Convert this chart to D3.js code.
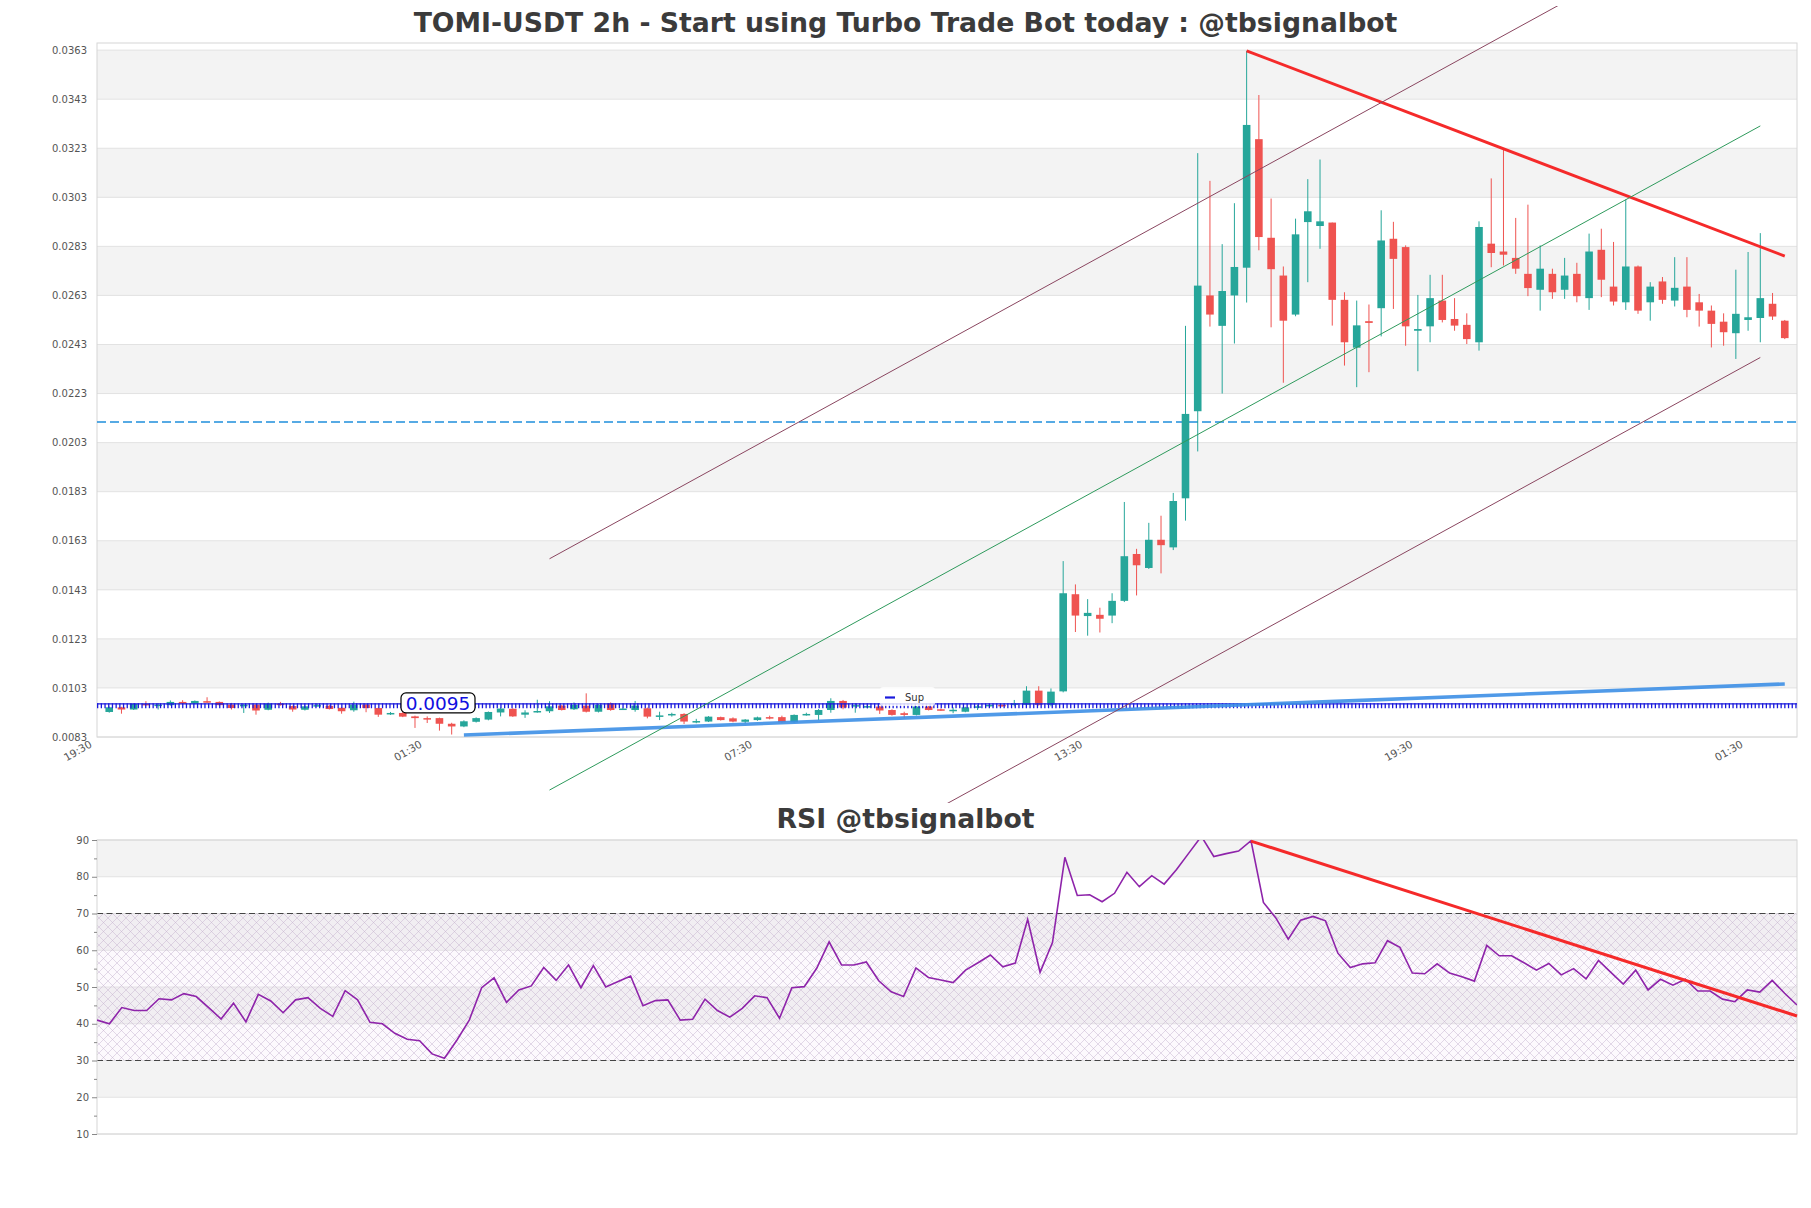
<!DOCTYPE html>
<html>
<head>
<meta charset="utf-8">
<script src="https://cdn.jsdelivr.net/npm/d3@7"></script>
<style>
  body { margin: 0; background: #fff; }
  svg { display: block; font-family: "DejaVu Sans", sans-serif; }
</style>
</head>
<body>
<svg id="chart"></svg>
<script>
// ---- data ----
const openP = [0.00932,0.00951,0.00942,0.00965,0.00960,0.00960,0.00973,0.00966,0.00976,0.00973,
  0.00962,0.00955,0.00962,0.00941,0.00966,0.00956,0.00941,0.00957,0.00957,0.00949,
  0.00939,0.00962,0.00948,0.00926,0.00928,0.00914,0.00907,0.00907,0.00884,0.00873,
  0.00892,0.00901,0.00930,0.00945,0.00921,0.00934,0.00935,0.00958,0.00943,0.00958,
  0.00933,0.00967,0.00942,0.00940,0.00947,0.00914,0.00920,0.00924,0.00892,0.00893,
  0.00911,0.00906,0.00892,0.00899,0.00911,0.00911,0.00890,0.00919,0.00920,0.00940,
  0.00977,0.00957,0.00955,0.00954,0.00940,0.00927,0.00920,0.00954,0.00943,0.00939,
  0.00933,0.00949,0.00955,0.00961,0.00961,0.00961,0.01019,0.00961,0.01016,0.01412,
  0.01323,0.01328,0.01325,0.01385,0.01576,0.01519,0.01634,0.01603,0.01803,0.02158,
  0.02630,0.02506,0.02630,0.02743,0.03267,0.02865,0.02711,0.02552,0.02929,0.02913,
  0.02927,0.02612,0.02417,0.02525,0.02578,0.02861,0.02827,0.02486,0.02504,0.02609,
  0.02534,0.02510,0.02439,0.02841,0.02809,0.02783,0.02718,0.02653,0.02718,0.02653,
  0.02718,0.02619,0.02816,0.02666,0.02602,0.02748,0.02602,0.02687,0.02609,0.02666,
  0.02602,0.02568,0.02523,0.02476,0.02530,0.02538,0.02596,0.02527];
const highP = [0.00954,0.00953,0.00967,0.00976,0.00968,0.00979,0.00980,0.00979,0.00992,0.00975,
  0.00969,0.00964,0.00964,0.00970,0.00973,0.00958,0.00958,0.00966,0.00960,0.00952,
  0.00974,0.00964,0.00950,0.00932,0.00932,0.00917,0.00914,0.00909,0.00888,0.00898,
  0.00910,0.00934,0.00950,0.00947,0.00939,0.00982,0.00976,0.00960,0.00971,0.01008,
  0.00964,0.00971,0.00949,0.00977,0.00950,0.00933,0.00929,0.00927,0.00904,0.00915,
  0.00913,0.00910,0.00903,0.00913,0.00917,0.00917,0.00922,0.00929,0.00944,0.00988,
  0.00981,0.00967,0.00963,0.00957,0.00943,0.00933,0.00956,0.00957,0.00946,0.00951,
  0.00953,0.00961,0.00963,0.00963,0.00981,0.01037,0.01037,0.01028,0.01547,0.01452,
  0.01392,0.01357,0.01416,0.01788,0.01597,0.01703,0.01732,0.01825,0.02506,0.03210,
  0.03097,0.02839,0.03006,0.03627,0.03447,0.03025,0.02748,0.02943,0.03104,0.03184,
  0.02927,0.02643,0.02609,0.02593,0.02977,0.02930,0.02834,0.02632,0.02714,0.02714,
  0.02619,0.02557,0.02932,0.03107,0.03225,0.02946,0.03000,0.02834,0.02739,0.02783,
  0.02763,0.02882,0.02902,0.02848,0.03021,0.02752,0.02684,0.02705,0.02786,0.02786,
  0.02636,0.02589,0.02557,0.02735,0.02807,0.02884,0.02640,0.02530];
const lowP = [0.00929,0.00925,0.00940,0.00958,0.00942,0.00958,0.00962,0.00964,0.00969,0.00958,
  0.00942,0.00928,0.00921,0.00939,0.00958,0.00933,0.00938,0.00955,0.00942,0.00925,
  0.00933,0.00931,0.00912,0.00920,0.00911,0.00867,0.00887,0.00856,0.00840,0.00870,
  0.00889,0.00898,0.00914,0.00912,0.00908,0.00929,0.00928,0.00938,0.00940,0.00930,
  0.00930,0.00937,0.00940,0.00933,0.00906,0.00899,0.00913,0.00883,0.00886,0.00891,
  0.00897,0.00890,0.00885,0.00896,0.00902,0.00887,0.00888,0.00917,0.00899,0.00929,
  0.00943,0.00929,0.00947,0.00924,0.00917,0.00906,0.00918,0.00938,0.00936,0.00927,
  0.00931,0.00940,0.00953,0.00953,0.00955,0.00958,0.00958,0.00955,0.01012,0.01258,
  0.01243,0.01256,0.01294,0.01380,0.01407,0.01515,0.01497,0.01592,0.01712,0.01994,
  0.02503,0.02230,0.02434,0.02601,0.02814,0.02500,0.02274,0.02545,0.02684,0.02820,
  0.02507,0.02344,0.02256,0.02317,0.02463,0.02575,0.02425,0.02321,0.02439,0.02520,
  0.02486,0.02432,0.02405,0.02745,0.02752,0.02718,0.02627,0.02568,0.02616,0.02616,
  0.02602,0.02571,0.02623,0.02589,0.02571,0.02555,0.02527,0.02596,0.02585,0.02541,
  0.02503,0.02418,0.02425,0.02371,0.02486,0.02439,0.02530,0.02452];
const closeP = [0.00951,0.00942,0.00965,0.00960,0.00962,0.00973,0.00966,0.00977,0.00970,0.00960,
  0.00948,0.00962,0.00938,0.00966,0.00960,0.00942,0.00955,0.00960,0.00944,0.00935,
  0.00962,0.00948,0.00921,0.00928,0.00913,0.00907,0.00905,0.00884,0.00873,0.00894,
  0.00907,0.00932,0.00946,0.00914,0.00930,0.00936,0.00955,0.00940,0.00961,0.00933,
  0.00961,0.00940,0.00946,0.00958,0.00913,0.00918,0.00924,0.00893,0.00895,0.00913,
  0.00899,0.00893,0.00901,0.00910,0.00909,0.00890,0.00920,0.00924,0.00940,0.00977,
  0.00950,0.00960,0.00956,0.00938,0.00920,0.00920,0.00954,0.00940,0.00938,0.00941,
  0.00951,0.00955,0.00961,0.00955,0.00967,0.01019,0.00961,0.01015,0.01416,0.01325,
  0.01336,0.01312,0.01385,0.01567,0.01530,0.01634,0.01612,0.01792,0.02147,0.02670,
  0.02552,0.02648,0.02746,0.03325,0.02868,0.02737,0.02527,0.02879,0.02973,0.02932,
  0.02612,0.02439,0.02508,0.02518,0.02854,0.02779,0.02504,0.02493,0.02619,0.02530,
  0.02507,0.02452,0.02909,0.02803,0.02796,0.02739,0.02660,0.02739,0.02643,0.02711,
  0.02627,0.02809,0.02694,0.02605,0.02748,0.02568,0.02666,0.02612,0.02661,0.02571,
  0.02568,0.02514,0.02480,0.02555,0.02541,0.02619,0.02544,0.02456];

const rsi = [41.0,40.0,44.4,43.6,43.6,46.8,46.5,48.2,47.4,44.4,
  41.3,45.6,40.5,48.0,46.2,43.0,46.5,47.1,44.2,42.0,
  49.0,46.5,40.4,40.0,37.4,35.8,35.4,31.8,30.6,35.5,
  41.0,49.8,52.5,45.8,49.2,50.3,55.3,51.8,56.0,49.8,
  55.8,50.0,51.5,53.0,44.9,46.3,46.5,41.0,41.2,46.7,
  43.6,41.8,44.2,47.6,47.1,41.5,49.8,50.1,55.1,62.3,
  56.0,56.0,56.8,51.7,48.7,47.4,55.2,52.6,51.9,51.2,
  54.6,56.6,58.7,55.5,56.5,68.4,54.0,62.1,85.3,74.9,
  75.1,73.2,75.5,81.2,77.3,80.3,78.0,82.0,86.5,91.0,
  85.5,86.3,87.0,89.8,73.0,68.8,63.0,68.2,69.2,68.0,
  59.2,55.3,56.3,56.6,62.6,60.8,53.8,53.6,56.3,53.8,
  52.8,51.6,61.3,58.5,58.5,56.6,54.6,56.4,53.3,55.0,
  52.2,57.2,54.0,50.8,54.6,49.2,52.1,50.5,52.1,48.9,
  48.9,46.7,46.0,49.2,48.6,51.8,48.3,45.1];

const priceTicks = d3.range(0, 15).map(k => 0.0083 + k * 0.002);
const rsiTicks = [10, 20, 30, 40, 50, 60, 70, 80, 90];
const timeTickIdx = [-1, 26, 53, 80, 107, 134];
const timeTickLabels = ["19:30", "01:30", "07:30", "13:30", "19:30", "01:30"];

// drawn levels / trend lines: [index, value]
const supLevel = 0.00957;
const supLabel = "0.0095";
const dashLevel = 0.02114;
const supportTrend = [[29, 0.00838], [137, 0.010463]];
const resistTrend = [[93, 0.036271], [137, 0.027904]];
const channelMid = [[36, 0.006137], [135, 0.033210]];
const channelUp = [[36, 0.015565], [135, 0.042638]];
const channelLow = [[36, -0.003303], [135, 0.023770]];
const rsiTrend = [[93, 89.7], [137, 42.1]];

// ---- layout ----
const W = 1811, H = 1208;
const main = {l: 97, r: 1797, t: 43, b: 737};
const low = {l: 97, r: 1797, t: 840, b: 1134};
const UP = "#26a69a", DOWN = "#ef5350";

const svg = d3.select("#chart").attr("width", W).attr("height", H);

const x = d3.scaleLinear().domain([-1, 138]).range([main.l, main.r]);
const y = d3.scaleLinear().domain([0.0083, 0.03659]).range([main.b, main.t]);
const xr = d3.scaleLinear().domain([0, 137]).range([low.l, low.r]);
const yr = d3.scaleLinear().domain([10, 90]).range([low.b, low.t]);

svg.append("text").attr("x", W / 2).attr("y", 32).attr("text-anchor", "middle")
  .attr("font-size", 26.7).attr("font-weight", "bold").attr("fill", "#3b3b3b")
  .text("TOMI-USDT 2h - Start using Turbo Trade Bot today : @tbsignalbot");

// ---- main panel ----
const g = svg.append("g");
priceTicks.slice(0, -1).forEach((v, k) => {
  if (k % 2 === 1) {
    g.append("rect").attr("x", main.l).attr("width", main.r - main.l)
      .attr("y", y(v + 0.002)).attr("height", y(v) - y(v + 0.002)).attr("fill", "#f3f3f3");
  }
});
g.selectAll(".grid").data(priceTicks).join("line")
  .attr("x1", main.l).attr("x2", main.r).attr("y1", d => y(d)).attr("y2", d => y(d))
  .attr("stroke", "#e2e2e2").attr("stroke-width", 1);
g.append("rect").attr("x", main.l).attr("y", main.t).attr("width", main.r - main.l)
  .attr("height", main.b - main.t).attr("fill", "none").attr("stroke", "#d6d6d6");

const yAxis = d3.axisLeft(y).tickValues(priceTicks).tickFormat(d3.format(".4f")).tickSize(0).tickPadding(10);
g.append("g").attr("transform", `translate(${main.l},0)`).call(yAxis)
  .call(a => a.select(".domain").remove())
  .selectAll("text").attr("font-size", 10).attr("fill", "#555").attr("font-family", "DejaVu Sans");

timeTickIdx.forEach((t, k) => {
  g.append("text").attr("transform", `translate(${x(t) - 8},${main.b + 3}) rotate(-30)`)
    .attr("text-anchor", "end").attr("dy", "0.7em").attr("font-size", 10.5).attr("fill", "#555")
    .text(timeTickLabels[k]);
});

// horizontal levels
g.append("line").attr("x1", main.l).attr("x2", main.r)
  .attr("y1", y(dashLevel)).attr("y2", y(dashLevel))
  .attr("stroke", "#1f8fdc").attr("stroke-width", 1.3).attr("stroke-dasharray", "9,4");

// candles
const cw = 7.6;
const candles = g.append("g");
d3.range(openP.length).forEach(i => {
  const c = closeP[i] >= openP[i] ? UP : DOWN;
  const cx = x(i);
  candles.append("line").attr("x1", cx).attr("x2", cx)
    .attr("y1", y(highP[i])).attr("y2", y(lowP[i])).attr("stroke", c).attr("stroke-width", 1);
  const top = y(Math.max(openP[i], closeP[i]));
  const hgt = Math.max(1.5, Math.abs(y(openP[i]) - y(closeP[i])));
  candles.append("rect").attr("x", cx - cw / 2).attr("y", top).attr("width", cw)
    .attr("height", hgt).attr("fill", c);
});

// support level with tick-like markers
g.append("line").attr("x1", main.l).attr("x2", main.r)
  .attr("y1", y(supLevel) - 2).attr("y2", y(supLevel) - 2)
  .attr("stroke", "#1a1adc").attr("stroke-width", 1.3);
g.append("line").attr("x1", main.l).attr("x2", main.r)
  .attr("y1", y(supLevel)).attr("y2", y(supLevel))
  .attr("stroke", "#1a1adc").attr("stroke-width", 5).attr("stroke-dasharray", "1.3,2.4");

const lineGen = d3.line().x(d => x(d[0])).y(d => y(d[1]));
g.append("path").attr("d", lineGen(supportTrend)).attr("fill", "none")
  .attr("stroke", "#3d8fe6").attr("stroke-width", 3.6).attr("stroke-opacity", 0.9);
g.append("path").attr("d", lineGen(resistTrend)).attr("fill", "none")
  .attr("stroke", "#f52a2a").attr("stroke-width", 3);

svg.append("clipPath").attr("id", "chanClip").append("rect")
  .attr("x", 0).attr("y", 6).attr("width", W).attr("height", 797);
const chan = g.append("g").attr("clip-path", "url(#chanClip)");
chan.append("path").attr("d", lineGen(channelMid)).attr("fill", "none")
  .attr("stroke", "#2e9a5c").attr("stroke-width", 1);
[channelUp, channelLow].forEach(seg => {
  chan.append("path").attr("d", lineGen(seg)).attr("fill", "none")
    .attr("stroke", "#8a4660").attr("stroke-width", 1);
});

// support label
const lbl = g.append("g").attr("transform", `translate(438,${y(supLevel)})`);
lbl.append("rect").attr("x", -37).attr("y", -13).attr("width", 74).attr("height", 20)
  .attr("rx", 5).attr("fill", "#fff").attr("stroke", "#000").attr("stroke-width", 1.2);
lbl.append("text").attr("text-anchor", "middle").attr("y", 4).attr("font-size", 18.5)
  .attr("fill", "#1010e0").text(supLabel);

// legend
const lg = g.append("g").attr("transform", "translate(880,687)");
lg.append("rect").attr("width", 55).attr("height", 19).attr("rx", 3)
  .attr("fill", "#fff").attr("fill-opacity", 0.8);
lg.append("line").attr("x1", 5).attr("x2", 15).attr("y1", 10.5).attr("y2", 10.5)
  .attr("stroke", "#1a1adc").attr("stroke-width", 2.2);
lg.append("text").attr("x", 25).attr("y", 14).attr("font-size", 10).attr("fill", "#333").text("Sup");

// ---- RSI panel ----
const r = svg.append("g");
svg.append("text").attr("x", W / 2).attr("y", 828).attr("text-anchor", "middle")
  .attr("font-size", 26.7).attr("font-weight", "bold").attr("fill", "#3b3b3b")
  .text("RSI @tbsignalbot");

rsiTicks.slice(0, -1).forEach((v, k) => {
  if (k % 2 === 1) {
    r.append("rect").attr("x", low.l).attr("width", low.r - low.l)
      .attr("y", yr(v + 10)).attr("height", yr(v) - yr(v + 10)).attr("fill", "#f3f3f3");
  }
});
r.selectAll(".rgrid").data(rsiTicks).join("line")
  .attr("x1", low.l).attr("x2", low.r).attr("y1", d => yr(d)).attr("y2", d => yr(d))
  .attr("stroke", "#e2e2e2");

const defs = svg.append("defs");
const pat = defs.append("pattern").attr("id", "hatch").attr("patternUnits", "userSpaceOnUse")
  .attr("width", 9).attr("height", 9);
pat.append("path").attr("d", "M0,0L9,9M9,0L0,9").attr("stroke", "#c4b2cf")
  .attr("stroke-width", 0.6).attr("stroke-opacity", 0.8);
r.append("rect").attr("x", low.l).attr("width", low.r - low.l)
  .attr("y", yr(70)).attr("height", yr(30) - yr(70)).attr("fill", "#e8d8f0").attr("fill-opacity", 0.15);
r.append("rect").attr("x", low.l).attr("width", low.r - low.l)
  .attr("y", yr(70)).attr("height", yr(30) - yr(70)).attr("fill", "url(#hatch)");

[70, 30].forEach(v => {
  r.append("line").attr("x1", low.l).attr("x2", low.r).attr("y1", yr(v)).attr("y2", yr(v))
    .attr("stroke", "#444").attr("stroke-width", 1.2).attr("stroke-dasharray", "6,3.5");
});

r.append("rect").attr("x", low.l).attr("y", low.t).attr("width", low.r - low.l)
  .attr("height", low.b - low.t).attr("fill", "none").attr("stroke", "#d6d6d6");

const ryAxis = d3.axisLeft(yr).tickValues(rsiTicks).tickSize(5).tickPadding(3);
r.append("g").attr("transform", `translate(${low.l},0)`).call(ryAxis)
  .call(a => a.select(".domain").remove())
  .call(a => a.selectAll("line").attr("stroke", "#888"))
  .selectAll("text").attr("font-size", 10).attr("fill", "#555").attr("font-family", "DejaVu Sans");
r.append("g").attr("transform", `translate(${low.l},0)`)
  .call(d3.axisLeft(yr).tickValues(d3.range(15, 90, 10)).tickSize(3).tickFormat(""))
  .call(a => a.select(".domain").remove())
  .call(a => a.selectAll("line").attr("stroke", "#888"));

svg.append("clipPath").attr("id", "rsiClip").append("rect")
  .attr("x", low.l).attr("y", low.t).attr("width", low.r - low.l).attr("height", low.b - low.t);
r.append("path").datum(rsi).attr("clip-path", "url(#rsiClip)")
  .attr("d", d3.line().x((d, i) => xr(i)).y(d => yr(d)))
  .attr("fill", "none").attr("stroke", "#8e24aa").attr("stroke-width", 1.6);
r.append("path").attr("d", d3.line().x(d => xr(d[0])).y(d => yr(d[1]))(rsiTrend))
  .attr("fill", "none").attr("stroke", "#f52a2a").attr("stroke-width", 3);
</script>
</body>
</html>
